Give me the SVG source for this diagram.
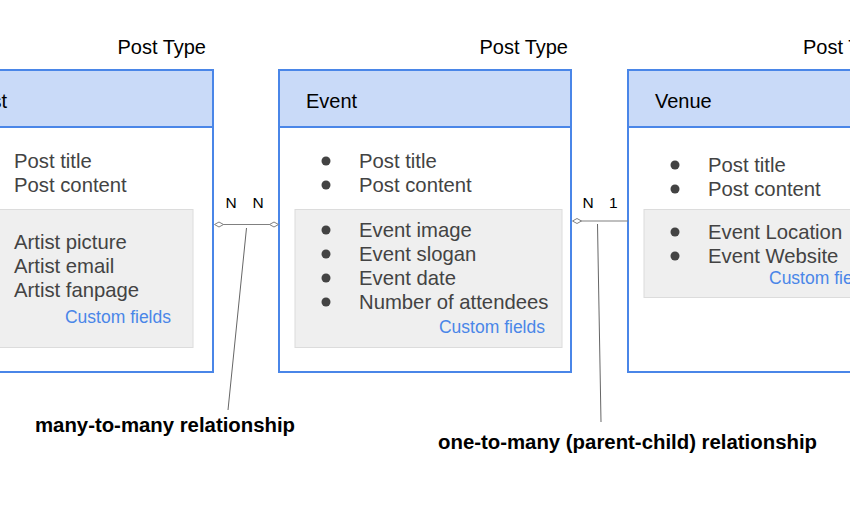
<svg xmlns="http://www.w3.org/2000/svg" width="850" height="510" viewBox="0 0 850 510">
<defs>
<style>
.box{fill:#ffffff;stroke:#4a86e8;stroke-width:2}
.hdr{fill:#c9daf8;stroke:#4a86e8;stroke-width:2}
.gray{fill:#efefef;stroke:#dcdcdc;stroke-width:1}
.t{font-family:"Liberation Sans",Arial,sans-serif;font-size:20.3px;fill:#434343}
.h{font-family:"Liberation Sans",Arial,sans-serif;font-size:20px;fill:#000000}
.pt{font-family:"Liberation Sans",Arial,sans-serif;font-size:20px;fill:#000000}
.cf{font-family:"Liberation Sans",Arial,sans-serif;font-size:17.5px;fill:#4a86e8}
.n{font-family:"Liberation Sans",Arial,sans-serif;font-size:15.5px;fill:#000000}
.b{font-family:"Liberation Sans",Arial,sans-serif;font-size:20px;font-weight:bold;fill:#000000}
.bul{fill:#434343}
.ln{stroke:#808080;stroke-width:1.2;fill:none}
.lead{stroke:#666666;stroke-width:1;fill:none}
.dia{fill:#ffffff;stroke:#808080;stroke-width:1}
</style>
</defs>
<rect width="850" height="510" fill="#ffffff"/>

<g id="artist">
<text class="pt" x="206" y="54" text-anchor="end">Post Type</text>
<rect class="box" x="-10" y="70" width="223" height="302"/>
<rect class="hdr" x="-10" y="70" width="223" height="57"/>
<text class="h" x="7" y="108" text-anchor="end">Artist</text>
<text class="t" x="14" y="168">Post title</text>
<text class="t" x="14" y="192">Post content</text>
<rect class="gray" x="-5" y="209.5" width="198" height="138"/>
<text class="t" x="14" y="249">Artist picture</text>
<text class="t" x="14" y="273">Artist email</text>
<text class="t" x="14" y="297">Artist fanpage</text>
<text class="cf" x="171" y="323" text-anchor="end">Custom fields</text>
</g>

<g id="event">
<text class="pt" x="568" y="54" text-anchor="end">Post Type</text>
<rect class="box" x="279" y="70" width="292" height="302"/>
<rect class="hdr" x="279" y="70" width="292" height="57"/>
<text class="h" x="306" y="108">Event</text>
<circle class="bul" cx="326" cy="161" r="4.5"/>
<text class="t" x="359" y="168">Post title</text>
<circle class="bul" cx="326" cy="185" r="4.5"/>
<text class="t" x="359" y="192">Post content</text>
<rect class="gray" x="295" y="209.5" width="267" height="138"/>
<circle class="bul" cx="326" cy="230" r="4.5"/>
<text class="t" x="359" y="237">Event image</text>
<circle class="bul" cx="326" cy="254" r="4.5"/>
<text class="t" x="359" y="261">Event slogan</text>
<circle class="bul" cx="326" cy="278" r="4.5"/>
<text class="t" x="359" y="285">Event date</text>
<circle class="bul" cx="326" cy="302" r="4.5"/>
<text class="t" x="359" y="309">Number of attendees</text>
<text class="cf" x="545" y="333" text-anchor="end">Custom fields</text>
</g>

<g id="venue">
<text class="pt" x="803" y="54">Post Type</text>
<rect class="box" x="628" y="70" width="240" height="302"/>
<rect class="hdr" x="628" y="70" width="240" height="57"/>
<text class="h" x="655" y="108">Venue</text>
<circle class="bul" cx="675" cy="165" r="4.5"/>
<text class="t" x="708" y="172">Post title</text>
<circle class="bul" cx="675" cy="189" r="4.5"/>
<text class="t" x="708" y="196">Post content</text>
<rect class="gray" x="644" y="209.5" width="220" height="88"/>
<circle class="bul" cx="675" cy="232" r="4.5"/>
<text class="t" x="708" y="239">Event Location</text>
<circle class="bul" cx="675" cy="256" r="4.5"/>
<text class="t" x="708" y="263">Event Website</text>
<text class="cf" x="769" y="284">Custom fields</text>
</g>

<g id="connectors">
<line class="ln" x1="219" y1="224.5" x2="274" y2="224.5"/>
<path class="dia" d="M214.5,224.5 L219,222 L223.5,224.5 L219,227 Z"/>
<path class="dia" d="M269.5,224.5 L274,222 L278.5,224.5 L274,227 Z"/>
<text class="n" x="225.5" y="208">N</text>
<text class="n" x="252.5" y="208">N</text>
<line class="lead" x1="246.5" y1="228" x2="228" y2="410"/>

<line class="ln" x1="577" y1="221" x2="628" y2="221"/>
<path class="dia" d="M572.5,221 L577,218.5 L581.5,221 L577,223.5 Z"/>
<text class="n" x="582.5" y="208">N</text>
<text class="n" x="609" y="208">1</text>
<line class="lead" x1="597.5" y1="224" x2="601" y2="422"/>
</g>

<g id="labels">
<text class="b" x="35" y="432" textLength="260" lengthAdjust="spacingAndGlyphs">many-to-many relationship</text>
<text class="b" x="438" y="449" textLength="379" lengthAdjust="spacingAndGlyphs">one-to-many (parent-child) relationship</text>
</g>
</svg>
